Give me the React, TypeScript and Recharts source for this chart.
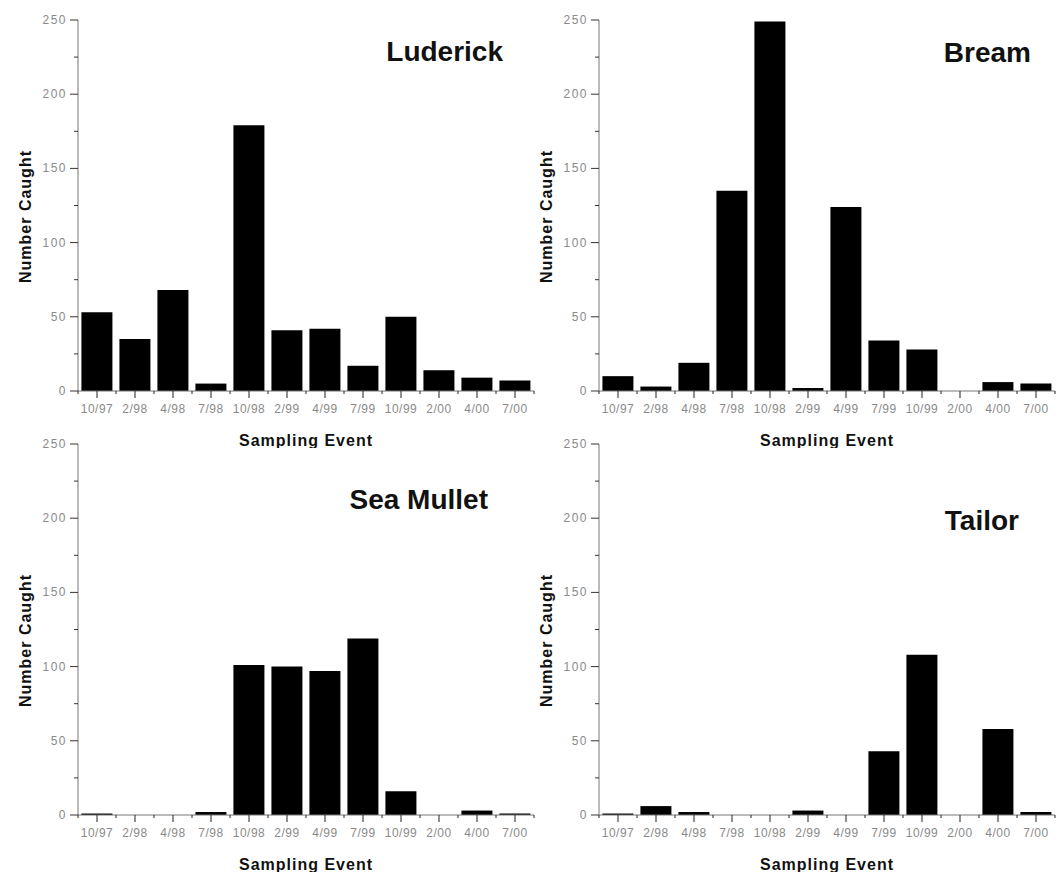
import React from 'react';
import { Bar, BarChart, Label, XAxis, YAxis } from 'recharts';

const events = ['10/97', '2/98', '4/98', '7/98', '10/98', '2/99', '4/99', '7/99', '10/99', '2/00', '4/00', '7/00'];

const luderick = [53, 35, 68, 5, 179, 41, 42, 17, 50, 14, 9, 7];
const bream = [10, 3, 19, 135, 249, 2, 124, 34, 28, 0, 6, 5];
const seaMullet = [1, 0, 0, 2, 101, 100, 97, 119, 16, 0, 3, 1];
const tailor = [1, 6, 2, 0, 0, 3, 0, 43, 108, 0, 58, 2];

const yTicks = [0, 25, 50, 75, 100, 125, 150, 175, 200, 225, 250];

const FONT = "Arial, 'Liberation Sans', sans-serif";
const PLOT_W = 456;
const Y_TICK = 8;
const Y_MARGIN = 3;
const X_TICK = 7;
const X_MARGIN = 5;

function YTick(props: any) {
  const { x, y, payload } = props;
  const major = payload.value % 50 === 0;
  const axisX = x + Y_TICK + Y_MARGIN;
  return (
    <g>
      <line x1={axisX - (major ? Y_TICK : 4)} x2={axisX} y1={y} y2={y} stroke='#333' />
      {major && (
        <text x={x} y={y} dy={4} textAnchor='end' fontSize={12} letterSpacing={1.5} fill='#8a8a8a' fontFamily={FONT}>
          {payload.value}
        </text>
      )}
    </g>
  );
}

function XTick(props: any) {
  const { x, y, payload, index } = props;
  const axisY = y - X_TICK - X_MARGIN;
  const band = PLOT_W / events.length;
  return (
    <g>
      <line x1={x} x2={x} y1={axisY} y2={axisY + X_TICK} stroke='#222' />
      <line x1={x - band / 2} x2={x - band / 2} y1={axisY} y2={axisY + 3} stroke='#222' />
      {index === events.length - 1 && (
        <line x1={x + band / 2} x2={x + band / 2} y1={axisY} y2={axisY + 3} stroke='#222' />
      )}
      <text x={x} y={y} dy={10} textAnchor='middle' fontSize={12} letterSpacing={0.5} fill='#8a8a8a' fontFamily={FONT}>
        {payload.value}
      </text>
    </g>
  );
}

const axisTitle = { fontFamily: FONT, fontWeight: 'bold', fontSize: 16, letterSpacing: 1, fill: '#111' } as const;

// "Sampling Event" sits 49px under the x axis line
function XTitle(props: any) {
  const { x, y, width } = props.viewBox;
  return (
    <text x={x + width / 2} y={y + 49} textAnchor='middle' dominantBaseline='central' style={axisTitle}>
      Sampling Event
    </text>
  );
}

// rotated "Number Caught", a little below the plot's middle
function YTitle(props: any) {
  const { x, y, height } = props.viewBox;
  const cx = x + 25;
  const cy = y + height / 2 + 11;
  return (
    <text
      x={cx}
      y={cy}
      transform={`rotate(-90, ${cx}, ${cy})`}
      textAnchor='middle'
      dominantBaseline='central'
      style={axisTitle}
    >
      Number Caught
    </text>
  );
}

type PanelProps = {
  values: number[];
  left: number;
  top: number;
};

function CatchChart({ values, left, top }: PanelProps) {
  const data = events.map((event, i) => ({ event, count: values[i] }));
  return (
    <div style={{ position: 'absolute', left, top }}>
      <BarChart
        width={537}
        height={448}
        data={data}
        margin={{ top: 20, right: 3, left: 0, bottom: 0 }}
        barCategoryGap='9%'
        style={{ overflow: 'visible' }}
      >
        <XAxis
          dataKey='event'
          height={57}
          interval={0}
          tickLine={false}
          tickSize={X_TICK}
          tickMargin={X_MARGIN}
          tick={<XTick />}
          axisLine={{ stroke: '#777' }}
        >
          <Label content={<XTitle />} />
        </XAxis>
        <YAxis
          width={78}
          domain={[0, 250]}
          ticks={yTicks}
          interval={0}
          tickLine={false}
          tickSize={Y_TICK}
          tickMargin={Y_MARGIN}
          tick={<YTick />}
          axisLine={{ stroke: '#777' }}
          allowDataOverflow
        >
          <Label content={<YTitle />} />
        </YAxis>
        <Bar dataKey='count' fill='#000' isAnimationActive={false} />
      </BarChart>
    </div>
  );
}

function Title({ text, right, baseline }: { text: string; right: number; baseline: number }) {
  return (
    <div
      style={{
        position: 'absolute',
        right: 1058 - right,
        top: baseline - 24,
        fontFamily: FONT,
        fontWeight: 'bold',
        fontSize: 28,
        lineHeight: 1,
        color: '#111',
        whiteSpace: 'nowrap',
      }}
    >
      {text}
    </div>
  );
}

export default function App() {
  return (
    <div style={{ position: 'absolute', left: 0, top: 0, width: 1058, height: 872, background: '#fff' }}>
      <CatchChart values={luderick} left={0} top={0} />
      <CatchChart values={bream} left={521} top={0} />
      <CatchChart values={seaMullet} left={0} top={424} />
      <CatchChart values={tailor} left={521} top={424} />
      <Title text='Luderick' right={503} baseline={62} />
      <Title text='Bream' right={1031} baseline={63} />
      <Title text='Sea Mullet' right={488} baseline={510} />
      <Title text='Tailor' right={1019} baseline={531} />
    </div>
  );
}
